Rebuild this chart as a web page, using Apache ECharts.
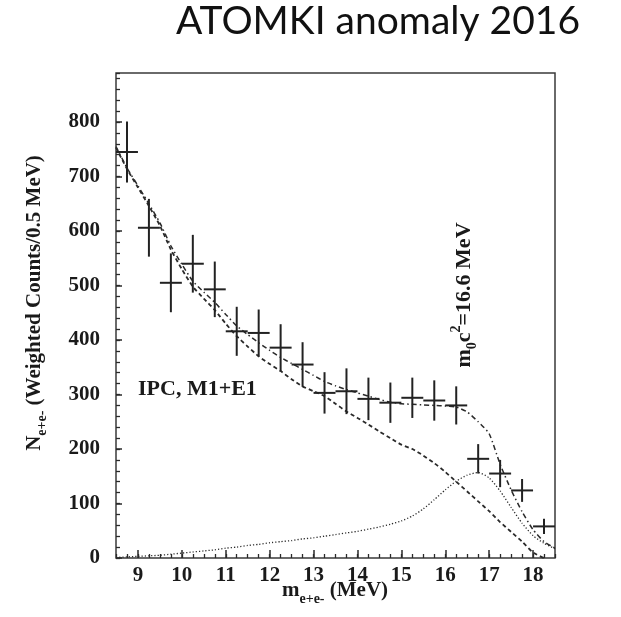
<!DOCTYPE html>
<html>
<head>
<meta charset="utf-8">
<script src="https://cdn.jsdelivr.net/npm/echarts@6/dist/echarts.min.js"></script>
<style>
  html, body { margin: 0; padding: 0; background: #fff; }
  #chart { width: 621px; height: 617px; }
</style>
</head>
<body>
<div id="chart"></div>
<script>
// Measured e+e- invariant-mass spectrum (0.5 MeV bins)
const massBins = [8.75, 9.25, 9.75, 10.25, 10.75, 11.25, 11.75, 12.25, 12.75, 13.25,
                  13.75, 14.25, 14.75, 15.25, 15.75, 16.25, 16.75, 17.25, 17.75, 18.25];
const countsMeasured = [745, 606, 505, 540, 493, 416, 413, 386, 355, 303,
                        306, 292, 285, 294, 289, 280, 182, 155, 124, 58];
const countsError = [56, 53, 54, 53, 51, 45, 43, 43, 41, 38,
                     42, 39, 37, 37, 37, 35, 27, 25, 21, 14];

// Model curves sampled in mass
const curveMass = [8.5, 8.75, 9.0, 9.25, 9.5, 9.75, 10.0, 10.25, 10.5, 10.75,
                   11.0, 11.25, 11.5, 11.75, 12.0, 12.25, 12.5, 12.75, 13.0, 13.25,
                   13.5, 13.75, 14.0, 14.25, 14.5, 14.75, 15.0, 15.25, 15.5, 15.75,
                   16.0, 16.25, 16.5, 16.75, 17.0, 17.25, 17.5, 17.75, 18.0, 18.25, 18.5];
// IPC background (M1+E1)
const ipcBackground = [753, 714, 680, 646, 610, 566, 530, 498, 476, 455,
                       430, 407, 388, 370, 356, 343, 328, 315, 306, 297,
                       283, 269, 257, 245, 232, 220, 208, 200, 188, 174,
                       158, 140, 122, 104, 86, 66, 48, 30, 10, 0, null];
// Boson decay signal, m0c2 = 16.6 MeV
const bosonSignal = [1, 2, 3, 4, 5, 7, 9, 11, 13, 15,
                     18, 20, 23, 25, 28, 30, 32, 35, 37, 40,
                     43, 46, 49, 53, 57, 62, 68, 77, 90, 107,
                     125, 141, 152, 157, 147, 123, 93, 64, 41, 27, 17];
// Sum of background and signal
const fitTotal = [755, 716, 683, 650, 615, 573, 539, 508, 488, 469,
                  447, 426, 410, 395, 381, 368, 357, 346, 335, 324,
                  316, 309, 303, 297, 291, 286, 283, 282, 281, 280,
                  279, 277, 268, 250, 228, 172, 125, 85, 52, 30, 18];

const BIN_HALF = 0.25;
const INK = '#2a2a2a';
const SERIF = '"Liberation Serif", "DejaVu Serif", "Times New Roman", serif';

const chart = echarts.init(document.getElementById('chart'), null, { renderer: 'canvas' });

const pairs = (ys) => curveMass.map((m, i) => [m, ys[i]]);

const lineSeries = (name, ys, dash, width) => ({
  name, type: 'line', data: pairs(ys), showSymbol: false, smooth: 0.2,
  xAxisIndex: 0, yAxisIndex: 0, connectNulls: false,
  lineStyle: { color: INK, width, type: dash },
  z: 3
});

const axisLabelStyle = { color: '#1a1a1a', fontFamily: SERIF, fontWeight: 'bold', fontSize: 21 };

chart.setOption({
  animation: false,
  backgroundColor: '#fff',
  title: {
    text: 'ATOMKI anomaly 2016',
    left: 373, top: -3, textAlign: 'center',
    textStyle: { fontFamily: 'Lato, "Open Sans", sans-serif', fontWeight: 'normal', fontSize: 39, color: '#111' }
  },
  grid: {
    left: 116, right: 66, top: 73, bottom: 59,
    show: true, borderColor: '#3a3a3a', borderWidth: 1.5, backgroundColor: 'transparent'
  },
  xAxis: [
    {
      type: 'value', min: 8.5, max: 18.5, splitNumber: 10, position: 'bottom',
      axisLine: { show: false }, splitLine: { show: false },
      axisTick: { inside: true, length: 8, lineStyle: { color: INK, width: 1.5 } },
      axisLabel: Object.assign({ margin: 7, showMinLabel: false, showMaxLabel: false }, axisLabelStyle)
    },
    {
      type: 'value', min: 8.5, max: 18.5, interval: 0.25, position: 'bottom',
      axisLine: { show: false }, splitLine: { show: false },
      axisTick: { inside: true, length: 4, lineStyle: { color: INK, width: 1.3 } },
      axisLabel: { show: false }
    }
  ],
  yAxis: [
    {
      type: 'value', min: 0, max: 890, interval: 100, position: 'left',
      axisLine: { show: false }, splitLine: { show: false },
      axisTick: { inside: true, length: 6, lineStyle: { color: INK, width: 1.5 } },
      axisLabel: Object.assign({ margin: 16, showMaxLabel: false }, axisLabelStyle)
    },
    {
      type: 'value', min: 0, max: 890, interval: 20, position: 'left',
      axisLine: { show: false }, splitLine: { show: false },
      axisTick: { inside: true, length: 4, lineStyle: { color: INK, width: 1.3 } },
      axisLabel: { show: false }
    }
  ],
  series: [
    lineSeries('IPC', ipcBackground, [4, 3], 1.8),
    lineSeries('signal', bosonSignal, [1.2, 2], 1.3),
    lineSeries('total', fitTotal, [5, 3, 1.5, 3], 1.5),
    {
      name: 'data', type: 'custom', xAxisIndex: 0, yAxisIndex: 0, z: 4,
      data: massBins.map((m, i) => [m, countsMeasured[i], countsError[i]]),
      encode: { x: 0, y: 1 },
      renderItem(params, api) {
        const x = api.value(0), y = api.value(1), e = api.value(2);
        const top = api.coord([x, y + e]);
        const bot = api.coord([x, y - e]);
        const lft = api.coord([x - BIN_HALF, y]);
        const rgt = api.coord([x + BIN_HALF, y]);
        const style = { stroke: '#222', lineWidth: 2 };
        return {
          type: 'group',
          children: [
            { type: 'line', shape: { x1: top[0], y1: top[1], x2: bot[0], y2: bot[1] }, style },
            { type: 'line', shape: { x1: lft[0], y1: lft[1], x2: rgt[0], y2: rgt[1] }, style }
          ]
        };
      }
    }
  ],
  graphic: [
    {
      type: 'text', x: 138, y: 389,
      style: {
        text: 'IPC, M1+E1', fill: '#1a1a1a',
        font: 'bold 22px ' + SERIF, verticalAlign: 'middle', align: 'left'
      }
    },
    {
      type: 'text', x: 464, y: 295, rotation: Math.PI / 2,
      style: {
        text: '{b|m}{sub|0}{b|c}{sup|2}{b|=16.6 MeV}',
        align: 'center', verticalAlign: 'middle', fill: '#1a1a1a',
        rich: {
          b: { fontFamily: SERIF, fontWeight: 'bold', fontSize: 22, lineHeight: 30, verticalAlign: 'middle', fill: '#1a1a1a' },
          sub: { fontFamily: SERIF, fontWeight: 'bold', fontSize: 14, lineHeight: 13, verticalAlign: 'bottom', fill: '#1a1a1a' },
          sup: { fontFamily: SERIF, fontWeight: 'bold', fontSize: 14, lineHeight: 13, verticalAlign: 'top', fill: '#1a1a1a' }
        }
      }
    },
    {
      type: 'text', x: 35, y: 303, rotation: Math.PI / 2,
      style: {
        text: '{b|N}{sub|e+e-}{b| (Weighted Counts/0.5 MeV)}',
        align: 'center', verticalAlign: 'middle', fill: '#1a1a1a',
        rich: {
          b: { fontFamily: SERIF, fontWeight: 'bold', fontSize: 21, lineHeight: 28, verticalAlign: 'middle', fill: '#1a1a1a' },
          sub: { fontFamily: SERIF, fontWeight: 'bold', fontSize: 14, lineHeight: 12, verticalAlign: 'bottom', fill: '#1a1a1a' }
        }
      }
    },
    {
      type: 'text', x: 335, y: 591,
      style: {
        text: '{b|m}{sub|e+e-}{b| (MeV)}',
        align: 'center', verticalAlign: 'middle', fill: '#1a1a1a',
        rich: {
          b: { fontFamily: SERIF, fontWeight: 'bold', fontSize: 21, lineHeight: 30, verticalAlign: 'middle', fill: '#1a1a1a' },
          sub: { fontFamily: SERIF, fontWeight: 'bold', fontSize: 14, lineHeight: 14, verticalAlign: 'bottom', fill: '#1a1a1a' }
        }
      }
    }
  ]
});
</script>
</body>
</html>
